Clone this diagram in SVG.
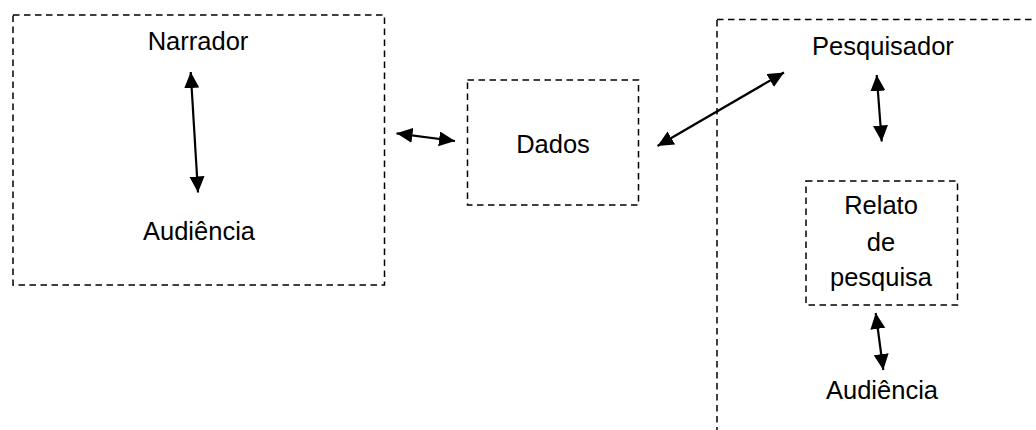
<svg xmlns="http://www.w3.org/2000/svg" width="1036" height="430" viewBox="0 0 1036 430">
<style>
.box{fill:none;stroke:#000;stroke-width:1.5;stroke-dasharray:6.5 4.5}
.lbl{font-family:"Liberation Sans",Arial,sans-serif;font-size:25.5px;fill:#000;text-anchor:middle}
.con{stroke:#000;stroke-width:2.2;fill:none;marker-start:url(#ah);marker-end:url(#ah)}
</style>
<defs>
<marker id="ah" markerUnits="userSpaceOnUse" markerWidth="18" markerHeight="16" refX="16" refY="7.5" orient="auto-start-reverse" viewBox="0 0 18 16">
<path d="M0,0 L16,7.5 L0,15 Z" fill="#000"/>
</marker>
</defs>
<rect width="1036" height="430" fill="#fff"/>
<g id="grupo-narrador">
<rect class="box" x="13" y="15" width="371.5" height="270"/>
</g>
<g id="narrador"><text class="lbl" x="198" y="50">Narrador</text></g>
<g id="audiencia1"><text class="lbl" x="199" y="240">Audiência</text></g>
<g id="dados">
<rect class="box" x="467.5" y="80" width="171" height="125"/>
<text class="lbl" x="553" y="153">Dados</text>
</g>
<g id="grupo-pesquisador">
<rect class="box" x="717" y="19.5" width="400" height="500"/>
</g>
<g id="pesquisador"><text class="lbl" x="883" y="55">Pesquisador</text></g>
<g id="relato">
<rect class="box" x="806" y="181" width="151.5" height="124"/>
<text class="lbl" x="881" y="214">Relato</text>
<text class="lbl" x="881" y="250.5">de</text>
<text class="lbl" x="881" y="286">pesquisa</text>
</g>
<g id="audiencia2"><text class="lbl" x="882" y="399">Audiência</text></g>
<g id="connectors">
<line class="con" x1="190.7" y1="72" x2="198" y2="192.5"/>
<line class="con" x1="396.5" y1="133.3" x2="455" y2="141"/>
<line class="con" x1="657.5" y1="146" x2="784" y2="72.5"/>
<line class="con" x1="876.7" y1="75" x2="881.7" y2="141.5"/>
<line class="con" x1="875.7" y1="313" x2="883.3" y2="370"/>
</g>
</svg>
